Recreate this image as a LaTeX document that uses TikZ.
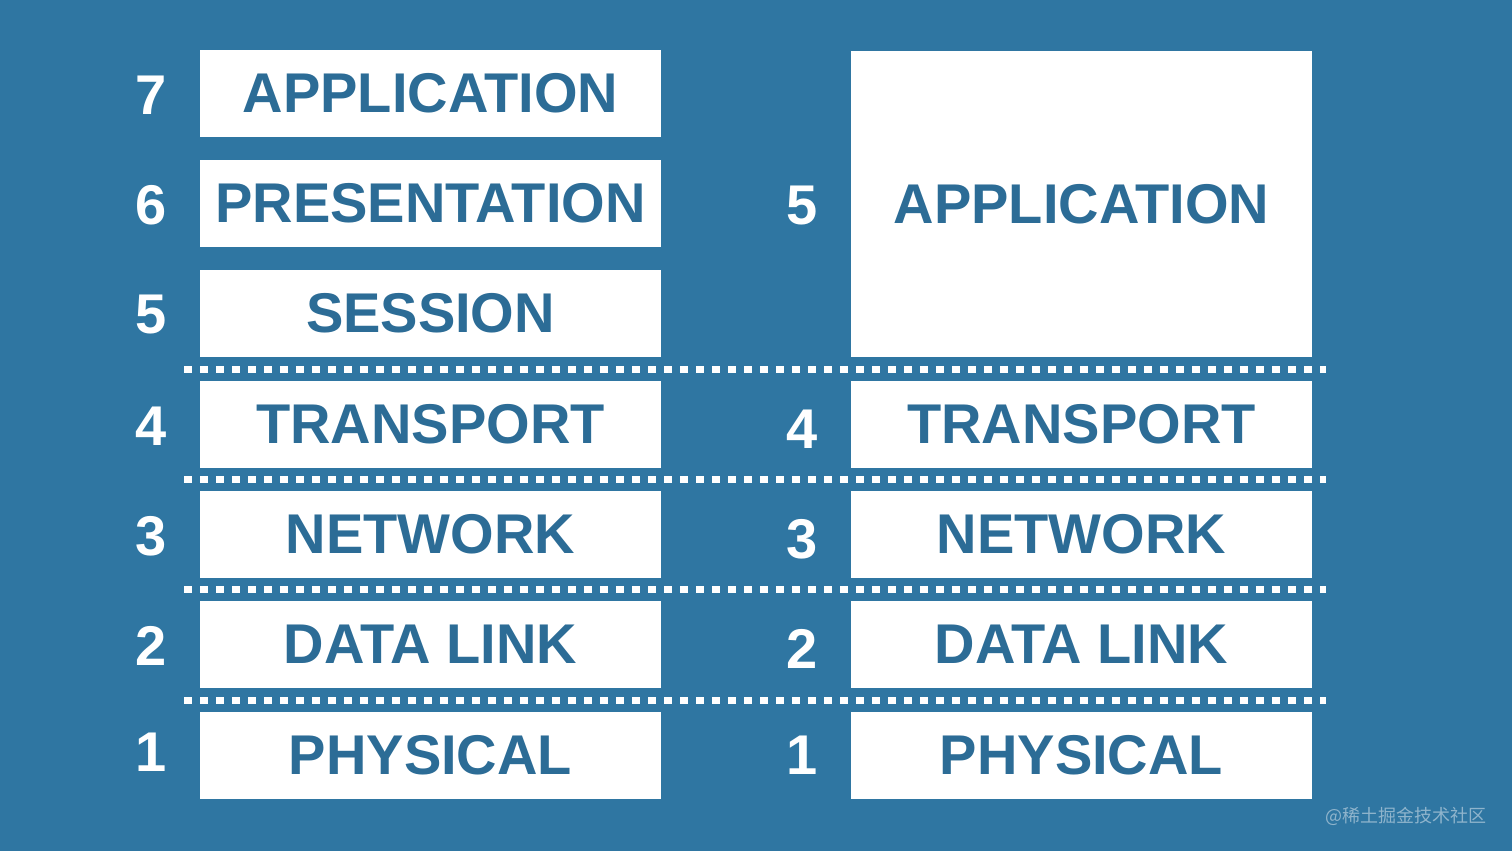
\documentclass[tikz,border=0pt]{standalone}
\usepackage{fontspec}
\setmainfont{Liberation Sans}
\newfontfamily\cjk{Noto Sans CJK SC}
\definecolor{bg}{HTML}{2F76A2}
\definecolor{txt}{HTML}{2C6C96}
\definecolor{wm}{HTML}{8FB4CC}
\begin{document}
\begin{tikzpicture}[x=0.5pt,y=-0.5pt,
  layer/.style={fill=white,draw=none,minimum width=230.5pt,minimum height=43.5pt,inner sep=0pt,
    font=\fontsize{28}{28}\selectfont\bfseries,text=txt},
  num/.style={font=\fontsize{28}{28}\selectfont\bfseries,text=white,inner sep=0pt},
  sep/.style={draw=white,line width=3.5pt,dash pattern=on 4pt off 4pt}]
\fill[bg] (0,0) rectangle (1512,851);
\useasboundingbox (0,0) rectangle (1512,851);
% left stack
\node[layer] (l7) at (430.5,93.5) {APPLICATION};
\node[layer] (l6) at (430.5,203.5) {PRESENTATION};
\node[layer] (l5) at (430.5,313.5) {SESSION};
\node[layer] (l4) at (430.5,424) {TRANSPORT};
\node[layer] (l3) at (430.5,534) {NETWORK};
\node[layer] (l2) at (430.5,644.5) {DATA LINK};
\node[layer] (l1) at (430.5,755.5) {PHYSICAL};
\node[num] (n7) at (151,95) {7};
\node[num] (n6) at (151,205) {6};
\node[num] (n5) at (151,315) {5};
\node[num] (n4) at (151,426) {4};
\node[num] (n3) at (151,536) {3};
\node[num] (n2) at (151,646) {2};
\node[num] (n1) at (151,752) {1};
% right stack
\node[layer,minimum height=153pt] (r5) at (1081.5,204) {APPLICATION};
\node[layer] (r4) at (1081.5,424) {TRANSPORT};
\node[layer] (r3) at (1081.5,534) {NETWORK};
\node[layer] (r2) at (1081.5,644.5) {DATA LINK};
\node[layer] (r1) at (1081.5,755.5) {PHYSICAL};
\node[num] (m5) at (802,206) {5};
\node[num] (m4) at (802,429) {4};
\node[num] (m3) at (802,539) {3};
\node[num] (m2) at (802,649) {2};
\node[num] (m1) at (802,755) {1};
% separators
\coordinate (s1a) at (184,369); \coordinate (s1b) at (1326,369);
\coordinate (s2a) at (184,479); \coordinate (s2b) at (1326,479);
\coordinate (s3a) at (184,589); \coordinate (s3b) at (1326,589);
\coordinate (s4a) at (184,700); \coordinate (s4b) at (1326,700);
\draw[sep] (s1a) -- (s1b);
\draw[sep] (s2a) -- (s2b);
\draw[sep] (s3a) -- (s3b);
\draw[sep] (s4a) -- (s4b);
% watermark
\node[text=wm,font=\cjk\fontsize{9}{9}\selectfont,inner sep=0pt] (wmk) at (1406,816) {@稀土掘金技术社区};
\end{tikzpicture}
\end{document}
